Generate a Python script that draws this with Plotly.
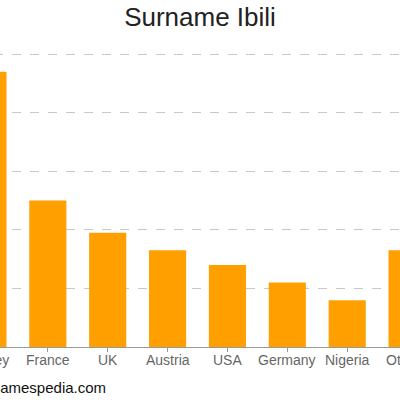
import plotly.graph_objects as go

countries = ["Turkey", "France", "UK", "Austria", "USA", "Germany", "Nigeria", "Others"]
counts = [47, 25, 19.5, 16.5, 14, 11, 8, 16.5]

FONT = "Liberation Sans, Arial, sans-serif"
FIG_W = 479       # wider than the 400px window; left part is shifted off-screen
SHIFT = 42        # pixels hidden on the left

fig = go.Figure(go.Bar(x=countries, y=counts, marker_color="#ffa000",
                       marker_line_width=0, width=0.62, hoverinfo="skip"))

label_annotations = [
    dict(text=c, x=c, xref="x", yref="paper", y=0, yanchor="middle", yshift=-13,
         xanchor="center", showarrow=False, font=dict(family=FONT, size=14, color="#666"))
    for c in countries
]

fig.update_layout(
    width=FIG_W, height=400,
    margin=dict(l=0, r=0, t=53, b=53, autoexpand=False),
    paper_bgcolor="white", plot_bgcolor="white",
    showlegend=False,
    title=dict(text="Surname Ibili", x=(200 + SHIFT) / FIG_W, xanchor="center", xref="paper",
               y=0.957, yanchor="middle", yref="container",
               font=dict(family=FONT, size=26, color="#222")),
    font=dict(family=FONT),
    xaxis=dict(range=[-0.5, 7.5], showgrid=False, showline=True, linecolor="#999",
               linewidth=1, ticks="outside", ticklen=4, tickcolor="#999", automargin=False,
               showticklabels=False, fixedrange=True),
    yaxis=dict(range=[0, 50.2], dtick=10, showgrid=True, gridcolor="#c8c8c8",
               griddash="dash", gridwidth=1, zeroline=False, showticklabels=False,
               automargin=False, fixedrange=True),
    annotations=label_annotations + [
        dict(text="www.namespedia.com", xref="paper", yref="paper",
             x=(108 + SHIFT) / FIG_W, y=-40 / 294, xanchor="right", yanchor="middle",
             showarrow=False, font=dict(family=FONT, size=15, color="#111"))],
)

fig.write_html("out.html", config={"displayModeBar": False},
               post_script=f"document.body.style.margin='0';document.body.style.marginLeft='-{SHIFT}px';"
                           "document.body.style.overflow='hidden';")
